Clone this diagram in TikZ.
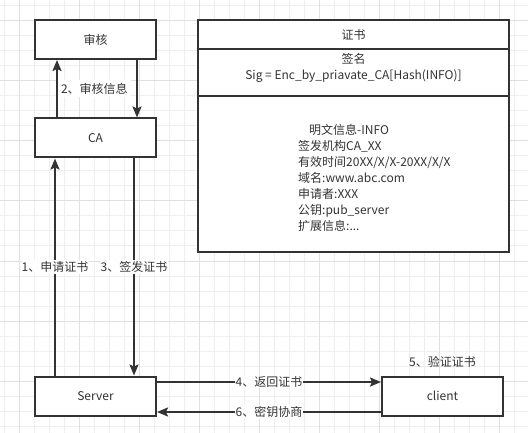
\documentclass[tikz,border=0pt]{standalone}
\usepackage{fontspec}
\setmainfont{Noto Sans CJK SC}
\usetikzlibrary{positioning,arrows.meta}
\definecolor{ink}{HTML}{333333}
\definecolor{gridminor}{HTML}{EFEFEF}
\definecolor{gridmajor}{HTML}{E0E0E0}
\begin{document}
\begin{tikzpicture}[x=1pt,y=-1pt,line cap=butt,line join=miter,font=\fontsize{12}{16}\selectfont,
 >={Stealth[length=11pt,width=9pt,inset=2pt]}]
 \tikzset{box/.style={draw=ink,line width=2pt,fill=white,text=ink,inner sep=0pt,minimum width=121pt,minimum height=39pt},
 part/.style={box,minimum width=311pt},
 flow/.style={draw=ink,line width=2pt,->},
 tag/.style={fill=white,text=ink,inner sep=1pt}
 }
 \useasboundingbox (0,0) rectangle (528,433);
 \foreach \k in {0,...,34} \draw[gridminor,line width=1pt] ({4.3+15*\k},0)--({4.3+15*\k},433);
 \foreach \k in {0,...,28} \draw[gridminor,line width=1pt] (0,{6+15*\k})--(528,{6+15*\k});
 \foreach \k in {0,...,8} \draw[gridmajor,line width=1pt] ({19.3+60*\k},0)--({19.3+60*\k},433);
 \foreach \k in {0,...,6} \draw[gridmajor,line width=1pt] (0,{21+60*\k})--(528,{21+60*\k});
 \node[box] (audit) at (95.5,39.5) {审核};
 \node[box] (ca) at (95.5,138) {CA};
 \node[box] (server) at (95.5,396) {Server};
 \node[box] (client) at (442.5,396) {client};
 \node[part,minimum height=29pt] (certhead) at (353.5,34.5) {证书};
 \node[part,minimum height=47pt] (certsig) at (353.5,72.5) {};
 \node[part,minimum height=156pt] (certbody) at (353.5,174) {};
 \node[text=ink,align=center,inner sep=0pt] (sigtext) at (353.5,67.5) {签名\\Sig = Enc\_by\_priavate\_CA[Hash(INFO)]};
 \node[text=ink,align=left,anchor=north west,inner sep=0pt] (info) at (298,124)
 {\hspace{11pt}明文信息-INFO\\签发机构CA\_XX\\有效时间20XX/X/X-20XX/X/X\\域名:www.abc.com\\申请者:XXX\\公钥:pub\_server\\扩展信息:...};
 \node[text=ink,above=5pt of client] (verify) {5、验证证书};
 \draw[flow] ([xshift=-38.5pt]ca.north) -- ([xshift=-38.5pt]audit.south) node[midway,right,tag,inner sep=3pt] {2、审核信息};
 \draw[flow] ([xshift=41.5pt]audit.south) -- ([xshift=41.5pt]ca.north);
 \draw[flow] ([xshift=-40.5pt]server.north) -- ([xshift=-40.5pt]ca.south) node[midway,tag] {1、申请证书};
 \draw[flow] ([xshift=38.5pt]ca.south) -- ([xshift=38.5pt]server.north) node[midway,tag] {3、签发证书};
 \draw[flow] ([yshift=14pt]server.east) -- ([yshift=14pt]client.west) node[midway,tag] {4、返回证书};
 \draw[flow] ([yshift=-16pt]client.west) -- ([yshift=-16pt]server.east) node[midway,tag] {6、密钥协商};
\end{tikzpicture}
\end{document}
